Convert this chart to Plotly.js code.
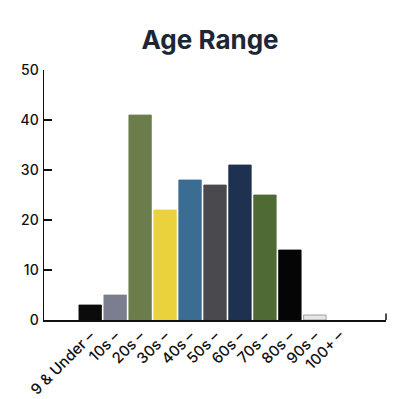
<!DOCTYPE html>
<html>
<head>
<meta charset="utf-8">
<script src="https://cdn.plot.ly/plotly-3.0.1.min.js"></script>
<style>html,body{margin:0;padding:0;background:#fff;}#chart{width:404px;height:399px;}</style>
</head>
<body>
<div id="chart"></div>
<script>
const categories = ["9 & Under", "10s", "20s", "30s", "40s", "50s", "60s", "70s", "80s", "90s", "100+"];
const counts = [3, 5, 41, 22, 28, 27, 31, 25, 14, 1, 0];
const barColors = ["#0b0b0c", "#7b7e8e", "#6b7d4b", "#e9d23c", "#3b6d93", "#4a494d", "#1e3150", "#4f6b33", "#050505", "#e6e6e6", "#ffffff"];
const barLines = ["#0b0b0c", "#7b7e8e", "#6b7d4b", "#e9d23c", "#3b6d93", "#4a494d", "#1e3150", "#4f6b33", "#050505", "#8a8a8a", "#ffffff"];
const tickLabels = categories.map(c => c + " –");
const yTicks = [0, 10, 20, 30, 40, 50];

const trace = {
  type: "bar",
  x: categories,
  y: counts,
  marker: {color: barColors, line: {color: barLines, width: 0.8}},
  hoverinfo: "x+y"
};

const layout = {
  width: 404, height: 399,
  margin: {l: 44, r: 18, t: 70, b: 79, pad: 0},
  paper_bgcolor: "#ffffff", plot_bgcolor: "#ffffff",
  title: {text: "Age Range", x: 0.52, xanchor: "center", y: 0.9, yanchor: "middle",
          font: {family: "Inter, 'Liberation Sans', sans-serif", size: 26, weight: 700, color: "#1d2635"}},
  bargap: 0.1,
  showlegend: false,
  font: {family: "Inter, 'Liberation Sans', sans-serif", color: "#111111"},
  xaxis: {
    type: "category",
    range: [-1.85, 11.85],
    tickmode: "array", tickvals: categories, ticktext: tickLabels,
    tickangle: -45,
    ticks: "",
    showline: true, linecolor: "#111", linewidth: 1.5,
    showgrid: false, zeroline: false,
    tickfont: {size: 15, weight: 500, color: "#111"},
    fixedrange: true
  },
  yaxis: {
    range: [0, 50],
    tickmode: "array", tickvals: yTicks,
    ticks: "inside", ticklen: 8, tickwidth: 1.5, tickcolor: "#111",
    showline: true, linecolor: "#111", linewidth: 1.5,
    showgrid: false, zeroline: false,
    tickfont: {size: 14, weight: 500, color: "#111"},
    ticklabelstandoff: 1,
    fixedrange: true
  },
  shapes: [{type: "line", xref: "paper", yref: "y", x0: 1, x1: 1, y0: 0, y1: 1.3,
            line: {color: "#111", width: 1.5}}]
};

Plotly.newPlot("chart", [trace], layout, {displayModeBar: false, staticPlot: true});
</script>
</body>
</html>
